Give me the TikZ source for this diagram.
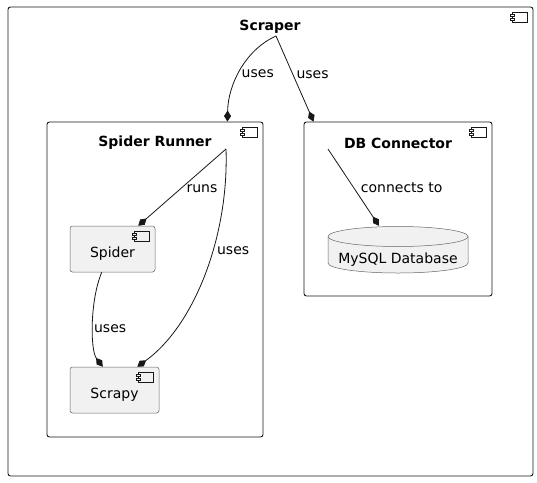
\documentclass[tikz,border=0pt]{standalone}
\usepackage{fontspec}
\setmainfont{DejaVu Sans}
\usepackage{xcolor}
\usepackage{tikz}
\usetikzlibrary{arrows.meta}
\definecolor{leafgray}{HTML}{F1F1F1}
\definecolor{linegray}{HTML}{181818}
\tikzstyle{container} = [rectangle, rounded corners=2.5pt, draw=linegray, line width=0.9pt, fill=white]
\tikzstyle{leaf} = [rectangle, rounded corners=2.5pt, draw=black!60, line width=0.5pt, fill=leafgray, font=\fontsize{14pt}{16pt}\selectfont, text height=19pt, text depth=2pt]
\tikzstyle{database} = [rectangle, font=\fontsize{14pt}{16pt}\selectfont, minimum width=140pt, minimum height=47pt, text height=30pt, text depth=2pt, inner sep=0pt]
\tikzstyle{dbline} = [draw=black!60, line width=0.5pt]
\tikzstyle{title} = [font=\fontsize{14pt}{16pt}\selectfont\bfseries, inner sep=0pt]
\tikzstyle{lbl} = [font=\fontsize{14pt}{16pt}\selectfont, inner sep=2pt]
\tikzstyle{compose} = [draw=linegray, line width=0.8pt, -{Diamond[length=11pt,width=7pt]}]
\tikzstyle{iconline} = [draw=linegray, line width=0.6pt]

\begin{document}
\begin{tikzpicture}[x=1pt, y=-1pt]
    \useasboundingbox (0,0) rectangle (537,482);
    \node(scraper)[container, minimum width=525pt, minimum height=469pt] at (270.5,241.5) {};
    \node(runner)[container, minimum width=216pt, minimum height=315pt] at (155,279.5) {};
    \node(db)[container, minimum width=188pt, minimum height=174pt] at (398,209) {};
    %
    \node(scrapertitle)[title] at (270,27) {Scraper};
    \node(runnertitle)[title] at (155,143) {Spider Runner};
    \node(dbtitle)[title] at (398,143) {DB Connector};
    %
    \node(spider)[leaf, minimum width=85pt, minimum height=46pt] at (112.5,249) {Spider};
    \node(scrapy)[leaf, minimum width=89pt, minimum height=46pt] at (114.5,390) {Scrapy};
    % database drum
    \path[dbline, fill=leafgray] (398,236.5) ++(-70,0) arc[start angle=180, end angle=0, x radius=70pt, y radius=10pt]
        -- ++(0,26.5) arc[start angle=0, end angle=-180, x radius=70pt, y radius=10pt] -- cycle;
    \draw[dbline] (398,236.5) ++(-70,0) arc[start angle=180, end angle=360, x radius=70pt, y radius=10pt];
    \node(mysql)[database] at (398,249.5) {MySQL Database};
    %
    \foreach \n/\c in {scraper/white, runner/white, db/white, spider/leafgray, scrapy/leafgray}{
      \draw[iconline] ([xshift=-21pt,yshift=-6pt]\n.north east) rectangle ++(15,10);
      \draw[iconline, fill=\c] ([xshift=-23pt,yshift=-8pt]\n.north east) rectangle ++(4,2);
      \draw[iconline, fill=\c] ([xshift=-23pt,yshift=-12pt]\n.north east) rectangle ++(4,2);
    }
    %
    \coordinate(scraperport) at (276,36);
    \coordinate(runnerport) at (226,149);
    \coordinate(dbport) at (328,149);
    %
    \draw[compose](scraperport) .. controls (245,50) and (228,85) .. node(usesa)[lbl, anchor=west, pos=0.52, yshift=-1.5pt] {uses} ([xshift=-36pt]runner.north east);
    \draw[compose](scraperport) -- node(usesb)[lbl, anchor=west, pos=0.43, xshift=2pt, yshift=-1.5pt] {uses} ([xshift=10pt]db.north west);
    \draw[compose](runnerport) -- node(runs)[lbl, anchor=west, pos=0.5, xshift=2pt, yshift=-1.5pt] {runs} ([xshift=-17pt]spider.north east);
    \draw[compose](runnerport) .. controls (229,235) and (195,325) .. node(usesc)[lbl, anchor=west, pos=0.4, xshift=2pt] {uses} ([xshift=-22pt]scrapy.north east);
    \draw[compose]([xshift=32pt]spider.south west) .. controls (90,300) and (90,350) .. node(usesd)[lbl, anchor=west, pos=0.55, inner sep=0.5pt] {uses} ([xshift=33pt]scrapy.north west);
    \draw[compose](dbport) -- node(conn)[lbl, anchor=west, pos=0.5, xshift=5pt] {connects to} ([xshift=-19pt]mysql.north);
\end{tikzpicture}
\end{document}
